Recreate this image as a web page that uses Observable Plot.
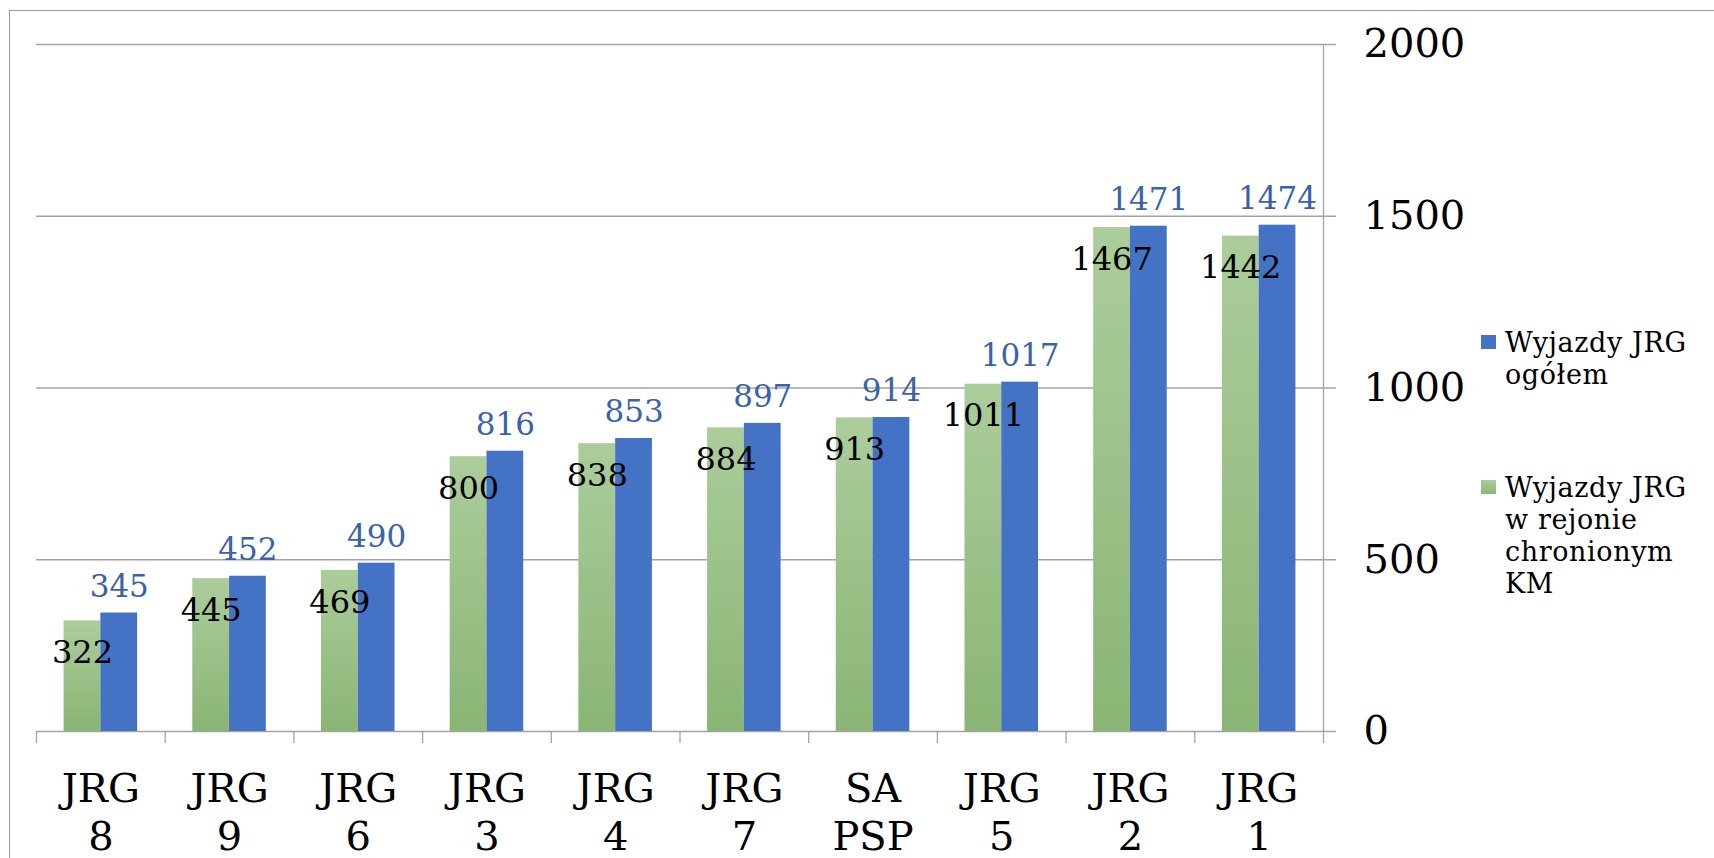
<!DOCTYPE html>
<html><head><meta charset="utf-8">
<script src="https://cdn.jsdelivr.net/npm/d3@7"></script>
<script src="https://cdn.jsdelivr.net/npm/@observablehq/plot@0.6"></script>
<style>
html,body{margin:0;padding:0;background:#fff}
body{overflow:hidden;width:1714px;height:858px;position:relative;font-family:"DejaVu Serif",serif}
#chart{position:absolute;left:0;top:0}
#frame{position:absolute;left:9px;top:10px;width:3000px;height:3000px;border-left:1.5px solid #9a9a9a;border-top:1.5px solid #9a9a9a;pointer-events:none}
.leg{position:absolute;left:1505px;font-size:27px;letter-spacing:0.6px;line-height:32px;color:#000;white-space:pre}
.sw{position:absolute;left:1481px;width:15px;height:14px}
</style></head><body>
<div id="chart"></div>
<div id="frame"></div>
<script>
// ---- data ----
const categories = ["JRG 8","JRG 9","JRG 6","JRG 3","JRG 4","JRG 7","SA PSP","JRG 5","JRG 2","JRG 1"];
const ogolem = [345,452,490,816,853,897,914,1017,1471,1474];          // Wyjazdy JRG ogółem (blue)
const rejon  = [322,445,469,800,838,884,913,1011,1467,1442];          // Wyjazdy JRG w rejonie chronionym KM (green)
const seriesNames = ["Wyjazdy JRG\nogółem", "Wyjazdy JRG\nw rejonie\nchronionym\nKM"];
const yTicks = [0,500,1000,1500,2000];

const data = categories.map((c,i)=>({cat:c, ogolem:ogolem[i], rejon:rejon[i]}));

// ---- layout ----
const W = 1714, H = 858;
const mL = 36, mR = W - 1323, mT = 44, mB = H - 731;
const bw = (W - mL - mR) / categories.length;
const barW = bw / 3.5;
const FONT = "DejaVu Serif";
const BLUE = "#4472c4";

function gradientDefs(index, scales, values, dims, context) {
  const ns = "http://www.w3.org/2000/svg";
  const doc = context.document;
  const defs = doc.createElementNS(ns, "defs");
  const lg = doc.createElementNS(ns, "linearGradient");
  lg.setAttribute("id", "greenGrad");
  lg.setAttribute("x1", "0"); lg.setAttribute("y1", "0");
  lg.setAttribute("x2", "0"); lg.setAttribute("y2", "1");
  [["0%","#abcd9b"],["100%","#8ab574"]].forEach(([o,c])=>{
    const s = doc.createElementNS(ns, "stop");
    s.setAttribute("offset", o); s.setAttribute("stop-color", c);
    lg.appendChild(s);
  });
  defs.appendChild(lg);
  return defs;
}

const chart = Plot.plot({
  width: W, height: H,
  marginLeft: mL, marginRight: mR, marginTop: mT, marginBottom: mB,
  style: {fontFamily: FONT, background: "transparent", color: "#000", overflow: "visible"},
  x: {type: "band", domain: categories, padding: 0, round: false, label: null},
  y: {domain: [0, 2000], label: null},
  marks: [
    gradientDefs,
    Plot.ruleY(yTicks, {stroke: "#a3a3a3", strokeWidth: 1.3, insetRight: -13}),
    Plot.ruleX([categories[categories.length-1]], {y1: 0, y2: 2000, dx: bw/2, stroke: "#a3a3a3", strokeWidth: 1.3}),
    Plot.axisX({tickSize: 12, tickFormat: () => "", dx: -bw/2, stroke: "#a3a3a3", strokeWidth: 1.3}),
    Plot.axisX({ticks: [categories[categories.length-1]], tickSize: 12, tickFormat: () => "", dx: bw/2, stroke: "#a3a3a3", strokeWidth: 1.3}),
    Plot.axisX({tickSize: 0, tickPadding: 36, fontSize: 40, lineHeight: 1.2, fill: "#000", letterSpacing: 3,
                tickFormat: d => d.replace(" ", "\n")}),
    Plot.axisY({anchor: "right", ticks: yTicks, tickSize: 0, tickPadding: 40, fontSize: 40, fill: "#000",
                textAnchor: "start", tickFormat: d => String(d)}),
    Plot.barY(data, {x: "cat", y: "rejon", fill: "url(#greenGrad)", insetLeft: bw/2 - barW, insetRight: bw/2}),
    Plot.barY(data, {x: "cat", y: "ogolem", fill: BLUE, insetLeft: bw/2, insetRight: bw/2 - barW}),
    Plot.text(data, {x: "cat", y: "rejon", text: d => String(d.rejon), dx: -barW/2, dy: 32,
                     fontSize: 32, fill: "#000", lineAnchor: "middle", fontFamily: FONT}),
    Plot.text(data, {x: "cat", y: "ogolem", text: d => String(d.ogolem), dx: barW/2, dy: -26,
                     fontSize: 31, fill: "#3a62a8", lineAnchor: "middle", fontFamily: FONT, letterSpacing: 1})
  ]
});
document.getElementById("chart").appendChild(chart);

// ---- legend ----
const legendItems = [
  {name: seriesNames[0], color: BLUE, swTop: 335, textTop: 327},
  {name: seriesNames[1], color: "linear-gradient(#abcd9b,#8ab574)", swTop: 480, textTop: 472}
];
legendItems.forEach(it => {
  const sw = document.createElement("div");
  sw.className = "sw"; sw.style.top = it.swTop + "px"; sw.style.background = it.color;
  document.body.appendChild(sw);
  const t = document.createElement("div");
  t.className = "leg"; t.style.top = it.textTop + "px"; t.textContent = it.name;
  document.body.appendChild(t);
});
</script>
</body></html>
